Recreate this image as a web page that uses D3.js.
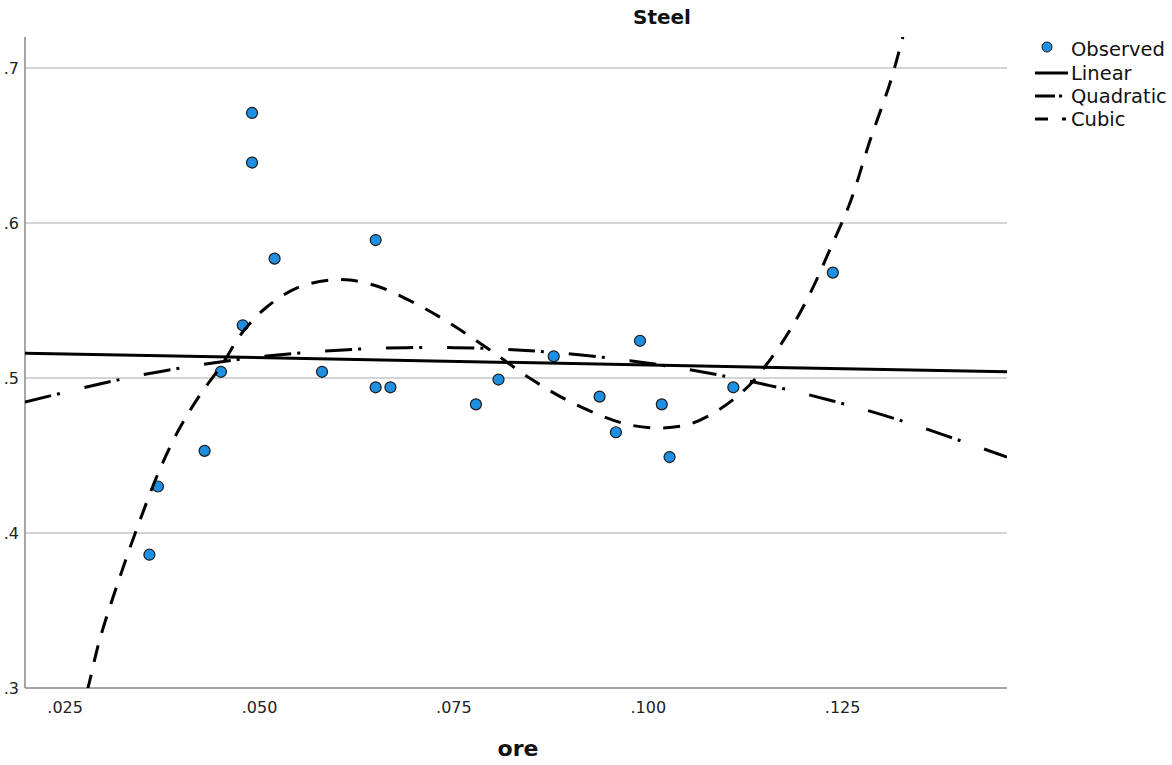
<!DOCTYPE html>
<html>
<head>
<meta charset="utf-8">
<script src="https://cdn.jsdelivr.net/npm/d3@7"></script>
<style>
  html, body { margin: 0; padding: 0; background: #fff; }
  svg { display: block; font-family: "DejaVu Sans", "Lucida Grande", sans-serif; }
</style>
</head>
<body>
<svg id="chart" width="1172" height="765"></svg>
<script>
// ---- Data ----
const chartTitle = "Steel";
const xLabel = "ore";
const xTicks = [0.025, 0.050, 0.075, 0.100, 0.125];
const yTicks = [0.3, 0.4, 0.5, 0.6, 0.7];
const xDomain = [0.0199, 0.1462];
const yDomain = [0.3, 0.72];

const observedX = [0.0359, 0.0370, 0.0430, 0.0451, 0.0479, 0.0491, 0.0491, 0.0520, 0.0581, 0.0650, 0.0650,
                   0.0669, 0.0779, 0.0808, 0.0879, 0.0938, 0.0959, 0.0990, 0.1018, 0.1028, 0.1110, 0.1238];
const observedY = [0.386, 0.430, 0.453, 0.504, 0.534, 0.671, 0.639, 0.577, 0.504, 0.589, 0.494,
                   0.494, 0.483, 0.499, 0.514, 0.488, 0.465, 0.524, 0.483, 0.449, 0.494, 0.568];

const linearX = [0.0199, 0.1462];
const linearY = [0.516, 0.504];

const quadraticX = [0.0199, 0.0295, 0.0359, 0.0424, 0.0488, 0.0552, 0.0630, 0.0720, 0.0810, 0.0887, 0.0977,
                    0.1067, 0.1157, 0.1238, 0.1325, 0.1462];
const quadraticY = [0.4845, 0.4961, 0.5029, 0.5084, 0.5129, 0.5161, 0.5187, 0.5197, 0.5187, 0.5161, 0.5112,
                    0.5042, 0.4951, 0.4852, 0.4726, 0.4490];

const cubicX = [0.0269, 0.0280, 0.0295, 0.0321, 0.0347, 0.0372, 0.0398, 0.0424, 0.0452, 0.0479, 0.0510,
                0.0549, 0.0591, 0.0617, 0.0655, 0.0700, 0.0745, 0.0797, 0.0848, 0.0893, 0.0938, 0.0977,
                0.1016, 0.1054, 0.1093, 0.1131, 0.1157, 0.1183, 0.1209, 0.1234, 0.1260, 0.1286, 0.1312,
                0.1328, 0.1337];
const cubicY = [0.2794, 0.3000, 0.3310, 0.3716, 0.4084, 0.4406, 0.4677, 0.4890, 0.5084, 0.5297, 0.5458,
                0.5581, 0.5632, 0.5632, 0.5587, 0.5484, 0.5355, 0.5181, 0.5000, 0.4865, 0.4761, 0.4697,
                0.4677, 0.4703, 0.4800, 0.4955, 0.5116, 0.5310, 0.5548, 0.5826, 0.6129, 0.6535, 0.6910,
                0.7200, 0.7374];

const legendLabels = ["Observed", "Linear", "Quadratic", "Cubic"];

// ---- Layout ----
const svg = d3.select("#chart");
const pL = 25, pR = 1007, pT = 37, pB = 688;

const x = d3.scaleLinear().domain(xDomain).range([pL, pR]);
const y = d3.scaleLinear().domain(yDomain).range([pB, pT]);

const fmtX = v => d3.format(".3f")(v).replace(/^0/, "");
const fmtY = v => d3.format(".1f")(v).replace(/^0/, "");

// clip
svg.append("defs").append("clipPath").attr("id", "plotclip")
  .append("rect").attr("x", pL).attr("y", pT).attr("width", pR - pL).attr("height", pB - pT);

// gridlines
svg.append("g")
  .selectAll("line")
  .data(yTicks.filter(v => v > yDomain[0]))
  .join("line")
  .attr("x1", pL).attr("x2", pR)
  .attr("y1", d => y(d)).attr("y2", d => y(d))
  .attr("stroke", "#d4d4d4").attr("stroke-width", 2);

// axes
const xAxis = d3.axisBottom(x).tickValues(xTicks).tickFormat(fmtX).tickSize(0).tickPadding(14);
const gx = svg.append("g").attr("transform", `translate(0,${pB})`).call(xAxis);
gx.select(".domain").attr("stroke", "#888").attr("stroke-width", 1.5).attr("d", `M${pL},0H${pR}`);
gx.selectAll("text").attr("font-size", 16).attr("fill", "#222").attr("font-family", "DejaVu Sans");

const yAxis = d3.axisLeft(y).tickValues(yTicks).tickFormat(fmtY).tickSize(0).tickPadding(6);
const gy = svg.append("g").attr("transform", `translate(${pL},0)`).call(yAxis);
gy.select(".domain").attr("stroke", "#888").attr("stroke-width", 1.5).attr("d", `M0,${pT}V${pB}`);
gy.selectAll("text").attr("font-size", 16).attr("fill", "#222").attr("font-family", "DejaVu Sans");

// observed points
const pts = observedX.map((v, i) => ({ x: v, y: observedY[i] }));
svg.append("g").attr("clip-path", "url(#plotclip)")
  .selectAll("circle").data(pts).join("circle")
  .attr("cx", d => x(d.x)).attr("cy", d => y(d.y)).attr("r", 5.5)
  .attr("fill", "#1e8fe1").attr("stroke", "#1a1a1a").attr("stroke-width", 1.2);

// fitted lines
const line = d3.line().x(d => x(d[0])).y(d => y(d[1])).curve(d3.curveCatmullRom.alpha(0.5));
const lines = svg.append("g").attr("clip-path", "url(#plotclip)").attr("fill", "none").attr("stroke", "#000").attr("stroke-width", 3);

lines.append("path").datum(linearX.map((v, i) => [v, linearY[i]])).attr("d", d3.line().x(d => x(d[0])).y(d => y(d[1])));
lines.append("path").datum(quadraticX.map((v, i) => [v, quadraticY[i]])).attr("d", line)
  .attr("stroke-dasharray", "27,6,3,25");
lines.append("path").datum(cubicX.map((v, i) => [v, cubicY[i]])).attr("d", line)
  .attr("stroke-dasharray", "17,13");

// title & axis label
svg.append("text").attr("x", 662).attr("y", 24).attr("text-anchor", "middle")
  .attr("font-size", 20).attr("font-weight", "bold").attr("fill", "#111").text(chartTitle);
svg.append("text").attr("x", 518).attr("y", 756).attr("text-anchor", "middle")
  .attr("font-size", 22).attr("font-weight", "bold").attr("fill", "#111").text(xLabel);

// legend
const lg = svg.append("g");
const rowsY = [47, 73, 96, 119];
lg.append("circle").attr("cx", 1047).attr("cy", rowsY[0]).attr("r", 5)
  .attr("fill", "#1e8fe1").attr("stroke", "#1a1a1a").attr("stroke-width", 1);
const dashes = [null, null, "20,4,3,10", "13,14"];
const ends = [0, 1068, 1068, 1066];
[1, 2, 3].forEach(i => {
  lg.append("line").attr("x1", 1035).attr("x2", ends[i]).attr("y1", rowsY[i]).attr("y2", rowsY[i])
    .attr("stroke", "#000").attr("stroke-width", 3)
    .attr("stroke-dasharray", dashes[i]);
});
legendLabels.forEach((t, i) => {
  lg.append("text").attr("x", 1071).attr("y", rowsY[i] + (i === 0 ? 9 : 7))
    .attr("font-size", 19.5).attr("fill", "#111").text(t);
});
</script>
</body>
</html>
